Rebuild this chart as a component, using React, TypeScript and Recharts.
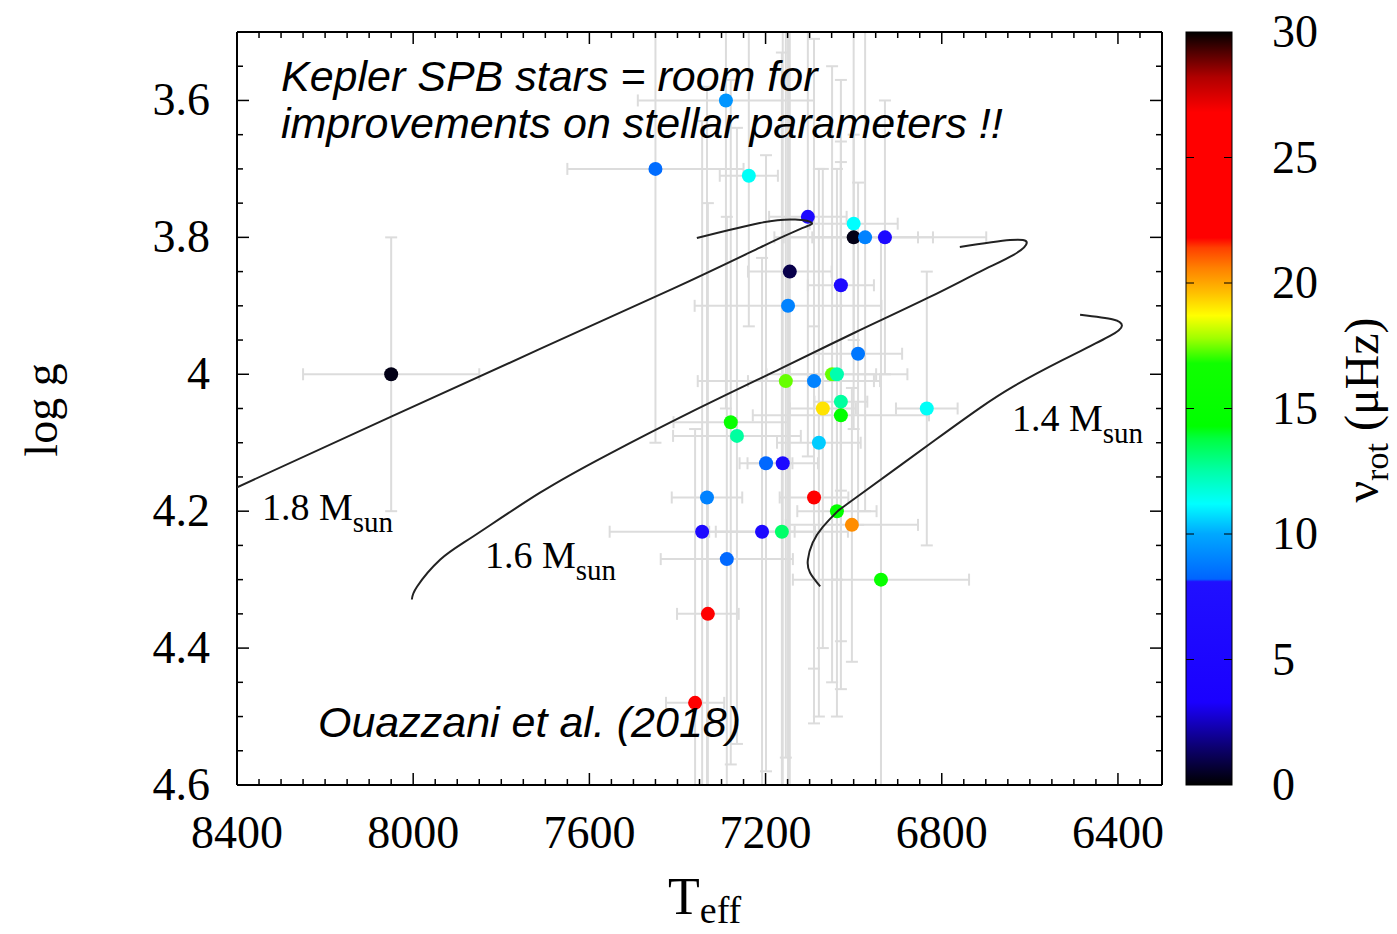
import React from "react";
import { ScatterChart, Scatter, XAxis, YAxis, ErrorBar } from "recharts";

// Kepler SPB stars (Ouazzani et al. 2018)
const teff = [7290, 7450, 7238, 7104, 7000, 7000, 6974, 6929, 7145, 7029, 7149, 6990, 7154, 7090, 7049, 7038, 7029, 7070, 7029, 6834, 7279, 7265, 7079, 7199, 7161, 7333, 7090, 7038, 7004, 7344, 7208, 7163, 7288, 6938, 8050, 7331, 7360];
const logg = [3.6, 3.7, 3.71, 3.77, 3.78, 3.8, 3.8, 3.8, 3.85, 3.87, 3.9, 3.97, 4.01, 4.01, 4.0, 4.0, 4.04, 4.05, 4.06, 4.05, 4.07, 4.09, 4.1, 4.13, 4.13, 4.18, 4.18, 4.2, 4.22, 4.23, 4.23, 4.23, 4.27, 4.3, 4.0, 4.35, 4.48];
const vrot = [9.5, 8.4, 11.3, 6, 11.2, 0.3, 9, 6, 1, 6, 9, 8.7, 17.4, 9, 17.4, 12.4, 12.6, 19.1, 14.5, 11.3, 15.5, 12.6, 10.5, 8.3, 6, 9, 24, 15, 20.4, 6, 6, 13.3, 8.3, 15.5, 0.3, 24, 24];
const errTeff = [200, 200, 66, 88, 100, 180, 120, 230, 95, 75, 212, 100, 200, 150, 100, 160, 60, 75, 200, 70, 130, 145, 95, 60, 80, 80, 78, 90, 150, 210, 120, 150, 150, 200, 200, 70, 66];
const errLogg = [0.45, 0.4, 0.22, 0.35, 0.3, 0.15, 0.4, 0.2, 0.8, 0.3, 0.75, 0.25, 0.55, 0.5, 0.45, 0.3, 0.35, 0.35, 0.4, 0.2, 0.5, 0.45, 0.4, 0.45, 0.7, 0.6, 0.25, 0.3, 0.2, 0.6, 0.4, 0.7, 0.5, 0.5, 0.2, 0.6, 0.4];

// evolutionary tracks [Teff, log g]
const track18 = [[8420, 4.171], [8050, 4.062], [7712, 3.963], [7410, 3.875], [7213, 3.815], [7122, 3.788], [7095, 3.779], [7133, 3.774], [7213, 3.779], [7356, 3.801]];
const track16 = [[8003, 4.329], [7991, 4.31], [7939, 4.271], [7864, 4.237], [7712, 4.173], [7560, 4.118], [7372, 4.056], [7167, 3.992], [6997, 3.939], [6827, 3.887], [6713, 3.85], [6638, 3.826], [6607, 3.808], [6645, 3.804], [6759, 3.814]];
const track14 = [[7076, 4.31], [7099, 4.29], [7104, 4.271], [7093, 4.246], [7070, 4.223], [7038, 4.201], [6992, 4.179], [6815, 4.096], [6713, 4.049], [6638, 4.018], [6525, 3.979], [6418, 3.944], [6391, 3.929], [6411, 3.92], [6486, 3.913]];

const xMajor = [8400, 8000, 7600, 7200, 6800, 6400];
const yMajor = [3.6, 3.8, 4.0, 4.2, 4.4, 4.6];
const yLabels = ["3.6", "3.8", "4", "4.2", "4.4", "4.6"];
const cbTicks = [0, 5, 10, 15, 20, 25, 30];

// colour palette of the v_rot scale
const palette: [number, string][] = [
  [0, "#000000"], [1.5, "#0c0070"], [3.3, "#1a00ff"], [8.1, "#2010ff"], [8.2, "#0064ff"],
  [10, "#00a8ff"], [11.2, "#00ffff"], [12.5, "#00ffa8"], [13.8, "#00ff40"], [14.3, "#00ff00"],
  [16.8, "#10ff00"], [17.8, "#a0ff00"], [18.7, "#ffff00"], [19.6, "#ffc000"], [20.6, "#ff8000"],
  [21.4, "#ff4000"], [21.8, "#ff0000"], [26.8, "#ff0000"], [28.2, "#b00000"], [29.2, "#500000"], [30, "#000000"],
];

const T_MIN = 6300;
const T_MAX = 8400;
const G_MIN = 3.5;
const G_MAX = 4.6;

const xTicks: number[] = [];
for (let t = T_MAX; t >= T_MIN; t -= 50) xTicks.push(t);
const yTicks: number[] = [];
for (let i = 0; i <= 22; i++) yTicks.push(Math.round((G_MIN + i * 0.05) * 100) / 100);

function hexToRgb(h: string) {
  return [1, 3, 5].map((i) => parseInt(h.slice(i, i + 2), 16));
}

function vColor(v: number): string {
  for (let i = 1; i < palette.length; i++) {
    const [v1, c1] = palette[i];
    const [v0, c0] = palette[i - 1];
    if (v <= v1) {
      const f = (v - v0) / (v1 - v0 || 1);
      const a = hexToRgb(c0);
      const b = hexToRgb(c1);
      return `rgb(${a.map((x, k) => Math.round(x + (b[k] - x) * f)).join(",")})`;
    }
  }
  return "#000";
}

// error bars are cut at the frame, like the clipped gnuplot ones
const stars = teff.map((t, i) => ({
  t,
  g: logg[i],
  v: vrot[i],
  et: [Math.min(errTeff[i], t - T_MIN), Math.min(errTeff[i], T_MAX - t)],
  eg: [Math.min(errLogg[i], logg[i] - G_MIN), Math.min(errLogg[i], G_MAX - logg[i])],
}));
const toPts = (tr: number[][]) => tr.map(([t, g]) => ({ t, g }));

const SERIF = "'Liberation Serif', 'Times New Roman', serif";
const SANS = "'Liberation Sans', Arial, sans-serif";
const W = 1397;
const H = 934;

const XTick = (p: any, top: boolean) => {
  const major = xMajor.includes(p.payload.value);
  const len = major ? 12 : 6;
  return (
    <g>
      <line x1={p.x} x2={p.x} y1={p.y} y2={top ? p.y + len : p.y - len} stroke="#000" strokeWidth={1.5} />
      {major && !top && (
        <text x={p.x} y={p.y + 63} textAnchor="middle" fontSize={46} fontFamily={SERIF} fill="#000">
          {p.payload.value}
        </text>
      )}
    </g>
  );
};

const YTick = (p: any, right: boolean) => {
  const idx = yMajor.findIndex((m) => Math.abs(m - p.payload.value) < 1e-6);
  const len = idx >= 0 ? 12 : 6;
  return (
    <g>
      <line x1={p.x} x2={right ? p.x - len : p.x + len} y1={p.y} y2={p.y} stroke="#000" strokeWidth={1.5} />
      {idx >= 0 && !right && (
        <text x={p.x - 27} y={p.y + 15} textAnchor="end" fontSize={46} fontFamily={SERIF} fill="#000">
          {yLabels[idx]}
        </text>
      )}
    </g>
  );
};

const Dot = (p: any) => <circle cx={p.cx} cy={p.cy} r={7} fill={vColor(p.payload.v)} />;
const NoShape = () => <g />;
const trackLine = { stroke: "#222", strokeWidth: 2 };

const CB = { x: 1186, y: 32, w: 46, h: 753 };

export default function App() {
  return (
    <div style={{ position: "fixed", left: 0, top: 0, width: W, height: H, background: "#fff" }}>
      <ScatterChart width={W} height={H} margin={{ top: 31, right: 234, bottom: 0, left: 0 }}>
        <Scatter xAxisId="b" yAxisId="l" data={stars} shape={NoShape} isAnimationActive={false}>
          <ErrorBar dataKey="et" direction="x" width={6} stroke="#dcdcdc" strokeWidth={2} isAnimationActive={false} />
          <ErrorBar dataKey="eg" direction="y" width={6} stroke="#dcdcdc" strokeWidth={2} isAnimationActive={false} />
        </Scatter>
        <Scatter xAxisId="b" yAxisId="l" data={stars} shape={Dot} isAnimationActive={false} />
        <Scatter xAxisId="t" yAxisId="r" data={toPts(track18)} shape={NoShape} line={trackLine} lineJointType="natural" isAnimationActive={false} />
        <Scatter xAxisId="t" yAxisId="r" data={toPts(track16)} shape={NoShape} line={trackLine} lineJointType="natural" isAnimationActive={false} />
        <Scatter xAxisId="t" yAxisId="r" data={toPts(track14)} shape={NoShape} line={trackLine} lineJointType="natural" isAnimationActive={false} />
        <XAxis
          xAxisId="b" dataKey="t" type="number" domain={[T_MIN, T_MAX]} reversed allowDataOverflow
          ticks={xTicks} interval={0} height={149} tickSize={0} tickMargin={0}
          axisLine={{ stroke: "#000", strokeWidth: 2 }} tickLine={false}
          tick={(p: any) => XTick(p, false)}
        />
        <XAxis
          xAxisId="t" dataKey="t" type="number" orientation="top" domain={[T_MIN, T_MAX]} reversed allowDataOverflow
          ticks={xTicks} interval={0} height={1} tickSize={0} tickMargin={0}
          axisLine={{ stroke: "#000", strokeWidth: 2 }} tickLine={false}
          tick={(p: any) => XTick(p, true)}
        />
        <YAxis
          yAxisId="l" dataKey="g" type="number" domain={[G_MIN, G_MAX]} reversed allowDataOverflow
          ticks={yTicks} interval={0} width={237} tickSize={0} tickMargin={0}
          axisLine={{ stroke: "#000", strokeWidth: 2 }} tickLine={false}
          tick={(p: any) => YTick(p, false)}
        />
        <YAxis
          yAxisId="r" dataKey="g" type="number" orientation="right" domain={[G_MIN, G_MAX]} reversed allowDataOverflow
          ticks={yTicks} interval={0} width={1} tickSize={0} tickMargin={0}
          axisLine={{ stroke: "#000", strokeWidth: 2 }} tickLine={false}
          tick={(p: any) => YTick(p, true)}
        />
      </ScatterChart>

      <svg width={W} height={H} style={{ position: "absolute", left: 0, top: 0, pointerEvents: "none" }}>
        <defs>
          <linearGradient id="cb" x1="0" y1="1" x2="0" y2="0">
            {palette.map(([v, c], i) => (
              <stop key={i} offset={`${(v / 30) * 100}%`} stopColor={c} />
            ))}
          </linearGradient>
        </defs>
        <rect x={CB.x} y={CB.y} width={CB.w} height={CB.h} fill="url(#cb)" stroke="#000" strokeWidth={1} />
        {cbTicks.map((v) => {
          const y = CB.y + CB.h - (v / 30) * CB.h;
          return (
            <g key={v}>
              {v > 0 && v < 30 && (
                <>
                  <line x1={CB.x} x2={CB.x + 8} y1={y} y2={y} stroke="#000" strokeWidth={1} />
                  <line x1={CB.x + CB.w - 8} x2={CB.x + CB.w} y1={y} y2={y} stroke="#000" strokeWidth={1} />
                </>
              )}
              <text x={1272} y={y + 15} fontSize={46} fontFamily={SERIF} fill="#000">{v}</text>
            </g>
          );
        })}
        <text transform="rotate(-90 1378 410)" x={1378} y={410} textAnchor="middle" fontSize={48} fontFamily={SERIF} fill="#000">
          ν<tspan fontSize={34} dy={10}>rot</tspan><tspan dy={-10}> (μHz)</tspan>
        </text>

        <text transform="rotate(-90 57 410)" x={57} y={410} textAnchor="middle" fontSize={46} fontFamily={SERIF} fill="#000">log g</text>
        <text x={668} y={914} fontSize={52} fontFamily={SERIF} fill="#000">
          T<tspan fontSize={38} dy={9}>eff</tspan>
        </text>

        <text x={262} y={520} fontSize={38} fontFamily={SERIF} fill="#000">1.8 M<tspan fontSize={29} dy={12}>sun</tspan></text>
        <text x={485} y={568} fontSize={38} fontFamily={SERIF} fill="#000">1.6 M<tspan fontSize={29} dy={12}>sun</tspan></text>
        <text x={1012} y={431} fontSize={38} fontFamily={SERIF} fill="#000">1.4 M<tspan fontSize={29} dy={12}>sun</tspan></text>

        <text x={281} y={91} fontSize={43} fontStyle="italic" fontFamily={SANS} fill="#000">Kepler SPB stars = room for</text>
        <text x={281} y={138} fontSize={43} fontStyle="italic" fontFamily={SANS} fill="#000">improvements on stellar parameters !!</text>
        <text x={318} y={737} fontSize={43} fontStyle="italic" fontFamily={SANS} fill="#000">Ouazzani et al. (2018)</text>
      </svg>
    </div>
  );
}
